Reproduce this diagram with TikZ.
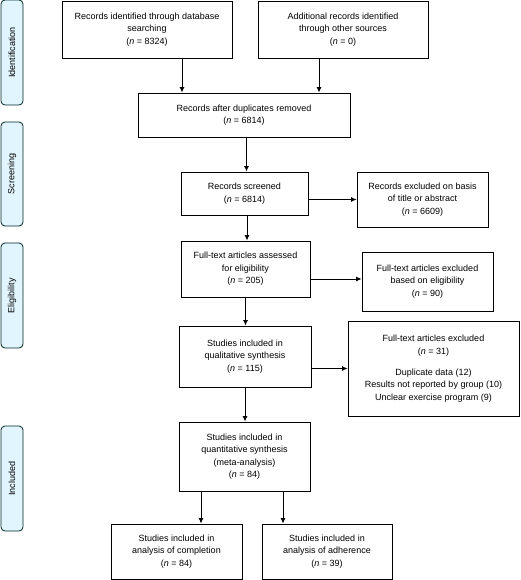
\documentclass[tikz,border=0pt]{standalone}
\usepackage{fontspec}
\setmainfont{Liberation Sans}
\usetikzlibrary{arrows.meta}
\begin{document}
\begin{tikzpicture}[x=1pt,y=-1pt,
  box/.style={draw=black,line width=0.8pt,rectangle,align=center,inner sep=2pt,
    font=\fontsize{9}{12.5}\selectfont},
  side/.style={draw=black!70!teal,fill=cyan!12,line width=0.8pt,rounded corners=4pt,
    minimum width=22pt,inner sep=0pt},
  sidetext/.style={rotate=90,font=\fontsize{9}{11}\selectfont},
  arr/.style={line width=1pt,-{Latex[length=5.5pt,width=5pt]}}]
\useasboundingbox (0,0) rectangle (520,580);
% side labels
\node[side,minimum height=105pt] (s1) at (12,52.5) {};
\node[sidetext] (t1) at (s1) {Identification};
\node[side,minimum height=104pt] (s2) at (12,174) {};
\node[sidetext] (t2) at (s2) {Screening};
\node[side,minimum height=105pt] (s3) at (12,295.5) {};
\node[sidetext] (t3) at (s3) {Eligibility};
\node[side,minimum height=105pt] (s4) at (12,478.5) {};
\node[sidetext] (t4) at (s4) {Included};
% boxes
\node[box,minimum width=170pt,minimum height=57pt] (B1) at (147,29.5)
  {Records identified through database\\searching\\(\textit{n} = 8324)};
\node[box,minimum width=170pt,minimum height=57pt] (B2) at (343,29.5)
  {Additional records identified\\through other sources\\(\textit{n} = 0)};
\node[box,minimum width=212pt,minimum height=44pt] (B3) at (244,115)
  {Records after duplicates removed\\(\textit{n} = 6814)};
\node[box,minimum width=127pt,minimum height=43pt] (B4) at (244.5,193.5)
  {Records screened\\(\textit{n} = 6814)};
\node[box,minimum width=131pt,minimum height=55pt] (B5) at (422.5,199.5)
  {Records excluded on basis\\of title or abstract\\(\textit{n} = 6609)};
\node[box,minimum width=129pt,minimum height=56pt] (B6) at (245.5,269)
  {Full-text articles assessed\\for eligibility\\(\textit{n} = 205)};
\node[box,minimum width=131pt,minimum height=59pt] (B7) at (427.5,281.5)
  {Full-text articles excluded\\based on eligibility\\(\textit{n} = 90)};
\node[box,minimum width=132pt,minimum height=61pt] (B8) at (245,356.5)
  {Studies included in\\qualitative synthesis\\(\textit{n} = 115)};
\node[box,minimum width=171pt,minimum height=95pt] (B9) at (433.5,368.5)
  {Full-text articles excluded\\(\textit{n} = 31)\\[8.5pt]Duplicate data (12)\\Results not reported by group (10)\\Unclear exercise program (9)};
\node[box,minimum width=131pt,minimum height=69pt] (B10) at (244.5,456.5)
  {Studies included in\\quantitative synthesis\\(meta-analysis)\\(\textit{n} = 84)};
\node[box,minimum width=131pt,minimum height=55pt] (B11) at (176.5,551.5)
  {Studies included in\\analysis of completion\\(\textit{n} = 84)};
\node[box,minimum width=130pt,minimum height=55pt] (B12) at (327,551.5)
  {Studies included in\\analysis of adherence\\(\textit{n} = 39)};
% connectors
\draw[arr] ([xshift=35pt]B1.south) -- ([xshift=35pt]B1.south |- B3.north);
\draw[arr] ([xshift=-24pt]B2.south) -- ([xshift=-24pt]B2.south |- B3.north);
\draw[arr] ([xshift=2.5pt]B3.south) -- ([xshift=2.5pt]B3.south |- B4.north);
\draw[arr] (B5.west -| B4.east) -- (B5.west);
\draw[arr] ([xshift=2.5pt]B4.south) -- ([xshift=2.5pt]B4.south |- B6.north);
\draw[arr] ([yshift=2.5pt]B7.west -| B6.east) -- ([yshift=2.5pt]B7.west);
\draw[arr] (B6.south) -- (B6.south |- B8.north);
\draw[arr] (B9.west -| B8.east) -- (B9.west);
\draw[arr] (B8.south) -- (B8.south |- B10.north);
\draw[arr] ([xshift=-43.5pt]B10.south) -- ([xshift=-43.5pt]B10.south |- B11.north);
\draw[arr] ([xshift=38.5pt]B10.south) -- ([xshift=38.5pt]B10.south |- B12.north);
\end{tikzpicture}
\end{document}
